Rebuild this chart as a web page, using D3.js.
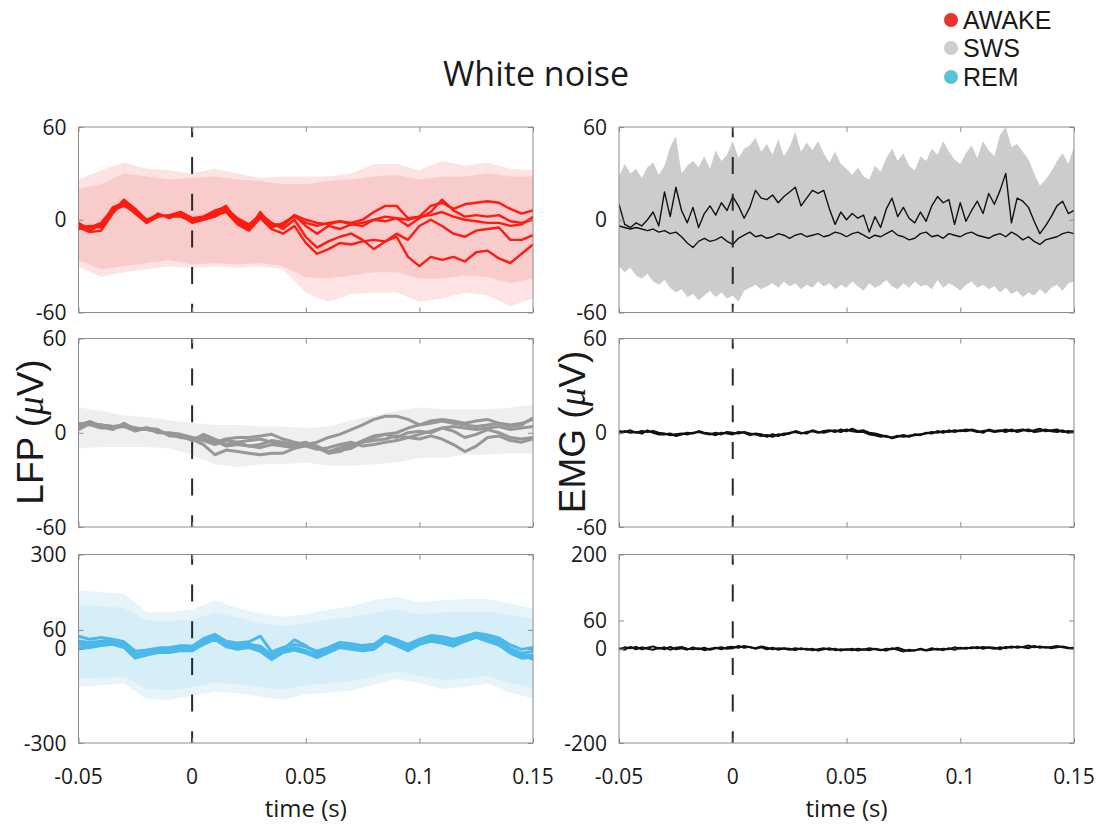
<!DOCTYPE html>
<html lang="en">
<head>
<meta charset="utf-8" />
<title>White noise</title>
<script src="https://cdn.jsdelivr.net/npm/d3@7"></script>
<style>
  body { margin: 0; background: #fff; }
  text { font-family: "Open Sans", sans-serif; fill: #1a1a1a; }
  .lab { font-family: "Liberation Sans", Arial, sans-serif; }
</style>
</head>
<body>
<svg id="chart"></svg>
<script>
var W = 1100, H = 824;

// sample clocks (s)
var t21 = d3.range(21).map(function(i){ return -0.05 + i * 0.01; });
var t41 = d3.range(41).map(function(i){ return -0.05 + i * 0.005; });
var t81 = d3.range(81).map(function(i){ return -0.05 + i * 0.0025; });

var xTicks = [-0.05, 0, 0.05, 0.1, 0.15];
var xTickLabels = ['-0.05', '0', '0.05', '0.1', '0.15'];
var lfpTicks = [[-60, 0, 60], [-60, 0, 60], [-300, 0, 60, 300]];
var emgTicks = [[-60, 0, 60], [-60, 0, 60], [-200, 0, 60, 200]];
var lfpDomains = [[-60, 60], [-60, 60], [-300, 300]];
var emgDomains = [[-60, 60], [-60, 60], [-200, 200]];

var states = ['AWAKE', 'SWS', 'REM'];
var stateDots = ['#ea3329', '#cdcdcd', '#5bc3d8'];

// ---- AWAKE LFP (uV), 5 sessions at t41
var awakeLfp = [
  [-5,-8,-7,4,12,6,-2,2,3,3,-2,0,3,5,-3,-7,1,-6,-9,-4,-15,-22,-19,-15,-16,-14,-13,-14,-11,-24,-30,-24,-26,-24,-27,-21,-20,-25,-28,-22,-16],
  [-3,-5,-2,7,10,4,-1,4,1,5,1,2,6,8,0,-4,4,-2,-6,0,-11,-18,-14,-11,-9,-13,-19,-14,-9,-13,-4,0,-4,-9,-11,-7,-6,-5,-13,-13,-10],
  [-6,-4,-5,5,13,7,0,3,2,2,-1,1,5,9,-2,-5,2,-3,-3,3,-4,-9,-4,-6,-3,-4,0,2,1,-4,1,5,13,6,2,3,2,3,-1,-2,0],
  [-2,-7,-3,6,9,5,-1,2,3,5,1,0,2,6,-1,-6,5,-5,-2,2,-2,-4,-2,-1,-2,0,5,9,9,1,2,9,11,7,10,11,12,11,7,4,6],
  [-4,-5,-4,8,11,4,-2,3,2,4,0,2,4,7,1,-3,3,-4,-4,3,0,-2,-3,-1,-3,-2,0,-1,1,0,2,3,5,2,0,-1,-2,-2,-4,-3,2]
];
// shaded spread at t21: outer (union) and inner (overlap)
var awakeOuterHi = [26,32,37,33,32,30,33,30,27,28,28,28,30,36,36,32,38,35,37,33,32];
var awakeOuterLo = [-30,-37,-34,-32,-30,-31,-30,-31,-30,-32,-47,-53,-48,-47,-47,-53,-51,-47,-49,-56,-51];
var awakeInnerHi = [20,23,30,28,26,27,28,26,25,23,23,25,26,28,29,26,28,28,30,28,28];
var awakeInnerLo = [-26,-32,-30,-28,-26,-29,-28,-29,-28,-30,-37,-38,-36,-34,-34,-38,-38,-36,-37,-41,-38];

// ---- SWS LFP (uV), 5 sessions at t41
var swsLfp = [
  [5,7,4,3,5,2,3,1,-1,-2,-4,-7.5,-14,-11,-12,-13,-14,-13,-13,-10,-7.5,-8.5,-12,-11,-10,-6,-3,-1,0,3,5,7.5,8.5,7.5,6,7.5,8.5,6,5,6,8.5],
  [3,6,5,4,4,3,2,1,-1,-3,-4,-3,-6,-4,-3,-3,-2,-1,-4,-6,-7.5,-6,-3,-1,2,5,8.5,10.5,10.5,8.5,5,6,7.5,6,5,4,5,6,4,5,9.5],
  [4,7,4,2,6,2,3,2,-2,-2,-5,-1,-4,-7.5,-6,-5,-4,-6,-7.5,-8.5,-7.5,-9.5,-13,-12,-8.5,-5,-2,-1,-3,0,1,0,3,1,-3,-1,2,0,-3,-4,-3],
  [6,5,3,3,4,1,3,0,0,-1,-3,-4,-5,-8.5,-7.5,-8.5,-7.5,-5,-6,-7.5,-6,-9.5,-12,-9.5,-7.5,-6,-5,-4,-2,-3,-4,-2,-4,-7.5,-12,-8.5,-3,-2,-5,-6,-4],
  [2,6,5,4,5,3,2,1,-1,-2,-4,-5,-7.5,-5,-6,-8.5,-9.5,-7.5,-8.5,-9.5,-8.5,-10.5,-9.5,-7.5,-6,-8.5,-7.5,-6,-5,-3,-1,1,3,4,3,2,3,4,2,3,4]
];
var swsHi = [16,14,11,10,8,6,5,5,4,4,3,4,8,11,14,16,15,15,15,16,18];
var swsLo = [-10,-9,-9,-9,-10,-14,-20,-22,-20,-20,-19,-21,-21,-20,-19,-16,-16,-14,-14,-13,-13];

// ---- REM LFP (uV), 5 sessions at t41
var remLfp = [
  [40,30,36,30,22,-8,-4,2,4,10,8,32,46,24,18,22,40,-10,4,14,6,-8,4,20,16,10,14,40,28,14,30,42,38,30,40,50,44,34,12,-2,4],
  [25,20,24,28,16,-18,-12,-2,-2,4,2,24,40,16,10,14,8,-20,-2,28,10,-16,-2,14,10,4,8,36,22,6,26,36,32,24,36,46,38,28,0,-14,-8],
  [12,8,14,18,8,-24,-16,-8,-6,-2,-2,18,34,10,2,8,-4,-28,-8,2,-8,-22,-8,8,2,-2,2,30,14,-2,18,30,22,14,30,40,28,18,-8,-24,-20],
  [0,4,10,14,4,-30,-20,-12,-12,-6,-6,14,30,6,-2,4,-8,-34,-12,-4,-14,-28,-12,4,-2,-6,-2,26,10,-6,14,24,18,8,24,36,24,12,-14,-30,-26],
  [18,12,16,22,10,-22,-14,-6,-8,0,0,20,36,12,4,10,0,-24,-6,4,-6,-24,-6,10,4,0,4,32,16,0,20,32,26,16,32,42,30,20,-4,-18,-34]
];
var remOuterHi = [186,180,176,117,117,125,154,130,112,102,110,125,135,155,165,148,154,158,158,145,128];
var remOuterLo = [-121,-116,-110,-160,-163,-150,-135,-142,-152,-163,-145,-140,-133,-115,-96,-110,-128,-122,-110,-140,-158];
var remInnerHi = [140,135,130,90,88,92,115,100,80,72,80,92,100,115,125,110,115,118,118,108,95];
var remInnerLo = [-95,-92,-88,-128,-132,-122,-108,-112,-122,-130,-116,-110,-104,-88,-72,-85,-100,-95,-85,-110,-125];

// ---- AWAKE EMG (uV) at t81
var emgAwakeHi = [28,36,30,33,27,34,37,29,35,47,54,30,35,38,34,41,33,45,38,42,51,40,46,48,53,44,49,42,52,41,47,57,44,50,45,51,43,37,44,36,33,29,34,28,26,35,31,40,46,38,43,35,32,41,38,46,42,51,44,39,36,43,48,40,51,45,41,55,60,47,49,44,39,30,22,26,31,38,43,36,47];
var emgAwakeLo = [-30,-34,-31,-36,-38,-35,-40,-42,-39,-44,-47,-45,-50,-48,-52,-49,-46,-50,-47,-51,-49,-53,-46,-44,-42,-45,-43,-41,-44,-40,-43,-41,-45,-42,-44,-40,-43,-41,-45,-42,-44,-40,-43,-46,-41,-44,-42,-39,-43,-45,-41,-44,-40,-43,-42,-45,-39,-44,-41,-43,-46,-42,-40,-44,-42,-45,-43,-47,-44,-48,-46,-50,-47,-49,-45,-48,-44,-42,-46,-41,-40];
var emgAwake = [
  [10,-3,-5,-2,-4,0,5,-4,18,2,21,6,-2,8,-5,4,9,3,11,6,15,9,1,8,19,14,13,16,11,15,18,21,9,14,19,17,19,7,-3,5,0,4,1,3,-8,2,-5,7,14,2,8,1,-2,5,-1,9,15,11,13,-3,11,-1,6,12,4,17,10,19,30,-2,14,12,8,-1,-9,-4,2,9,12,4,6],
  [-4,-5,-6,-5,-6,-7,-6,-8,-7,-9,-8,-11,-15,-18,-14,-12,-14,-13,-11,-14,-16,-12,-10,-8,-11,-10,-12,-11,-9,-10,-12,-10,-9,-11,-10,-9,-11,-10,-8,-9,-11,-9,-8,-10,-12,-10,-11,-9,-7,-10,-11,-13,-12,-9,-8,-11,-10,-12,-9,-10,-11,-9,-8,-10,-11,-12,-10,-9,-11,-8,-10,-13,-11,-14,-16,-13,-12,-11,-9,-8,-9]
];

// ---- SWS EMG (uV) at t81
var emgSws = [
  [1,0.5,1.5,0,1,0.5,1,0,-0.5,-1.5,-1,-0.5,-1,0,0.5,-0.5,-1,0,-1,0.5,0,-0.5,0.5,-0.5,-1,-2,-1.5,-2.5,-1,-1.5,0,0.5,-0.5,0.5,1,0,1,1.5,0.5,2,1,2.5,1,1.5,0,-0.5,-1.5,-2.5,-3,-2,-2.5,-2,-1.5,-1,-0.5,0.5,0,1,0.5,1.5,1,2,1.5,0.5,1,1.5,0.5,1,2,1,1.5,2,1,1.5,2.5,1,1.5,2,0.5,1,0.5],
  [-0.5,1,0,0.5,-0.5,1.5,0,-1,-1,-0.5,-2,-1,0,-0.5,1,0,-0.5,-1.5,0,-0.5,-1,0.5,0,-1.5,-0.5,-1,-2.5,-1,-2,-0.5,-0.5,1,0,-0.5,1.5,0.5,0,1,1.5,0.5,2,1,0.5,0.5,-1,-1.5,-2.5,-2,-3.5,-2.5,-1.5,-2.5,-1,-1.5,0,-0.5,1,0,1.5,0.5,1.5,1,2,1,0,2,1,1.5,0.5,2,0.5,1.5,2,0.5,1,2,1,0.5,1.5,0,1]
];

// ---- REM EMG (uV) at t81
var emgRem = [
  [-2,3,1,4,-1,2,5,0,3,-2,2,4,0,-1,1,-3,0,2,-1,3,4,2,6,3,1,5,2,-1,1,0,-2,1,-1,0,-3,-1,1,-2,0,-4,-1,-3,0,-2,1,-1,-3,0,-1,2,-2,-5,-3,-1,-4,-2,0,-3,1,-2,2,0,3,1,4,2,0,3,1,5,2,4,7,3,5,2,4,6,3,1,2],
  [1,-2,4,-1,3,0,-2,2,-1,4,-1,1,-2,3,-1,2,-2,1,3,0,1,6,2,4,0,3,-1,2,-2,1,0,-3,1,-2,0,-4,-1,1,-3,-1,-2,0,-4,-1,-3,0,-2,-4,1,-2,-6,-2,-4,0,-3,1,-2,0,-1,3,0,2,1,4,0,3,2,-1,4,2,5,3,1,6,2,4,1,3,5,2,0]
];

// ---- layout
var colX = [[78.5, 533], [619, 1074]];
var rowY = [[127, 312.5], [338.5, 527], [554.5, 743]];

var svg = d3.select('#chart').attr('width', W).attr('height', H);
svg.append('rect').attr('width', W).attr('height', H).attr('fill', '#fff');

function bands(t, pairs) {
  return pairs.map(function(p) { return { t: t, lo: p[0], hi: p[1], fill: p[2] }; });
}
function traces(t, arr, color, width) {
  return arr.map(function(v) { return { t: t, v: v, color: color, width: width }; });
}

var panels = [
  { col: 0, row: 0, domain: lfpDomains[0], ticks: lfpTicks[0],
    bands: bands(t21, [[awakeOuterLo, awakeOuterHi, '#fde3e3'], [awakeInnerLo, awakeInnerHi, '#f9cccc']]),
    lines: traces(t41, awakeLfp, '#ff1a12', 2.4) },
  { col: 0, row: 1, domain: lfpDomains[1], ticks: lfpTicks[1],
    bands: bands(t21, [[swsLo, swsHi, '#efefef']]),
    lines: traces(t41, swsLfp, '#979797', 3) },
  { col: 0, row: 2, domain: lfpDomains[2], ticks: lfpTicks[2],
    bands: bands(t21, [[remOuterLo, remOuterHi, '#e7f5fb'], [remInnerLo, remInnerHi, '#d5eef8']]),
    lines: traces(t41, remLfp, '#4bb8ea', 3) },
  { col: 1, row: 0, domain: emgDomains[0], ticks: emgTicks[0],
    bands: bands(t81, [[emgAwakeLo, emgAwakeHi, '#cccccc']]),
    lines: traces(t81, emgAwake, '#111', 1.4) },
  { col: 1, row: 1, domain: emgDomains[1], ticks: emgTicks[1],
    bands: [], lines: traces(t81, emgSws, '#111', 2.2) },
  { col: 1, row: 2, domain: emgDomains[2], ticks: emgTicks[2],
    bands: [], lines: traces(t81, emgRem, '#111', 2) }
];

panels.forEach(function(p, k) {
  var x = d3.scaleLinear().domain([-0.05, 0.15]).range(colX[p.col]);
  var y = d3.scaleLinear().domain(p.domain).range([rowY[p.row][1], rowY[p.row][0]]);
  var x0 = colX[p.col][0], x1 = colX[p.col][1], y0 = rowY[p.row][0], y1 = rowY[p.row][1];

  svg.append('clipPath').attr('id', 'clip' + k)
    .append('rect').attr('x', x0).attr('y', y0).attr('width', x1 - x0).attr('height', y1 - y0);
  var g = svg.append('g').attr('clip-path', 'url(#clip' + k + ')');

  p.bands.forEach(function(b) {
    var area = d3.area()
      .x(function(d, i) { return x(b.t[i]); })
      .y0(function(d, i) { return y(b.lo[i]); })
      .y1(function(d, i) { return y(b.hi[i]); });
    g.append('path').attr('d', area(b.lo)).attr('fill', b.fill);
  });

  p.lines.forEach(function(l) {
    var line = d3.line()
      .x(function(d, i) { return x(l.t[i]); })
      .y(function(d) { return y(d); });
    g.append('path').attr('d', line(l.v)).attr('fill', 'none')
      .attr('stroke', l.color).attr('stroke-width', l.width).attr('stroke-linejoin', 'round');
  });

  // stimulus onset
  svg.append('line')
    .attr('x1', x(0)).attr('x2', x(0)).attr('y1', y0).attr('y2', y1)
    .attr('stroke', '#2a2a2a').attr('stroke-width', 2)
    .attr('stroke-dasharray', '17,19.7').attr('stroke-dashoffset', 6.7);

  // box and inward ticks
  svg.append('rect').attr('x', x0).attr('y', y0).attr('width', x1 - x0).attr('height', y1 - y0)
    .attr('fill', 'none').attr('stroke', '#8c8c8c').attr('stroke-width', 1);

  var axes = [
    { a: d3.axisBottom(x).tickValues(xTicks).tickSize(-5).tickFormat(''), tr: [0, y1] },
    { a: d3.axisTop(x).tickValues(xTicks).tickSize(-5).tickFormat(''), tr: [0, y0] },
    { a: d3.axisLeft(y).tickValues(p.ticks).tickSize(-5).tickFormat(''), tr: [x0, 0] },
    { a: d3.axisRight(y).tickValues(p.ticks).tickSize(-5).tickFormat(''), tr: [x1, 0] }
  ];
  axes.forEach(function(ax) {
    var ag = svg.append('g').attr('transform', 'translate(' + ax.tr[0] + ',' + ax.tr[1] + ')').call(ax.a);
    ag.select('.domain').remove();
    ag.selectAll('line').attr('stroke', '#8c8c8c');
  });

  // y tick labels
  svg.append('g').selectAll('text').data(p.ticks).enter().append('text')
    .attr('x', x0 - 12).attr('y', function(d) { return y(d); })
    .attr('dy', '0.36em').attr('text-anchor', 'end')
    .attr('font-size', 21).text(function(d) { return d; });

  if (p.row === 2) {
    svg.append('g').selectAll('text').data(xTicks).enter().append('text')
      .attr('x', function(d) { return x(d); }).attr('y', 784)
      .attr('text-anchor', 'middle').attr('font-size', 21)
      .text(function(d, i) { return xTickLabels[i]; });
    svg.append('text').attr('x', (x0 + x1) / 2).attr('y', 817)
      .attr('text-anchor', 'middle').attr('font-size', 24).text('time (s)');
  }
});

// y labels
[['LFP', 30], ['EMG', 572]].forEach(function(d) {
  var t = svg.append('text').attr('class', 'lab')
    .attr('transform', 'translate(' + d[1] + ',432) rotate(-90)')
    .attr('text-anchor', 'middle').attr('dy', '0.36em').attr('font-size', 37);
  t.append('tspan').text(d[0] + ' (');
  t.append('tspan').attr('font-family', '"Liberation Serif", serif').attr('font-style', 'italic').text('\u03bc');
  t.append('tspan').text('V)');
});

// title
svg.append('text').attr('x', 536).attr('y', 86).attr('text-anchor', 'middle')
  .attr('font-size', 34).text('White noise');

// legend
var leg = svg.append('g').selectAll('g').data(states).enter().append('g')
  .attr('transform', function(d, i) { return 'translate(951,' + [20, 48, 77][i] + ')'; });
leg.append('circle').attr('r', 7).attr('fill', function(d, i) { return stateDots[i]; });
leg.append('text').attr('class', 'lab').attr('x', 12).attr('dy', '0.36em')
  .attr('font-size', 25).text(function(d) { return d; });
</script>
</body>
</html>
